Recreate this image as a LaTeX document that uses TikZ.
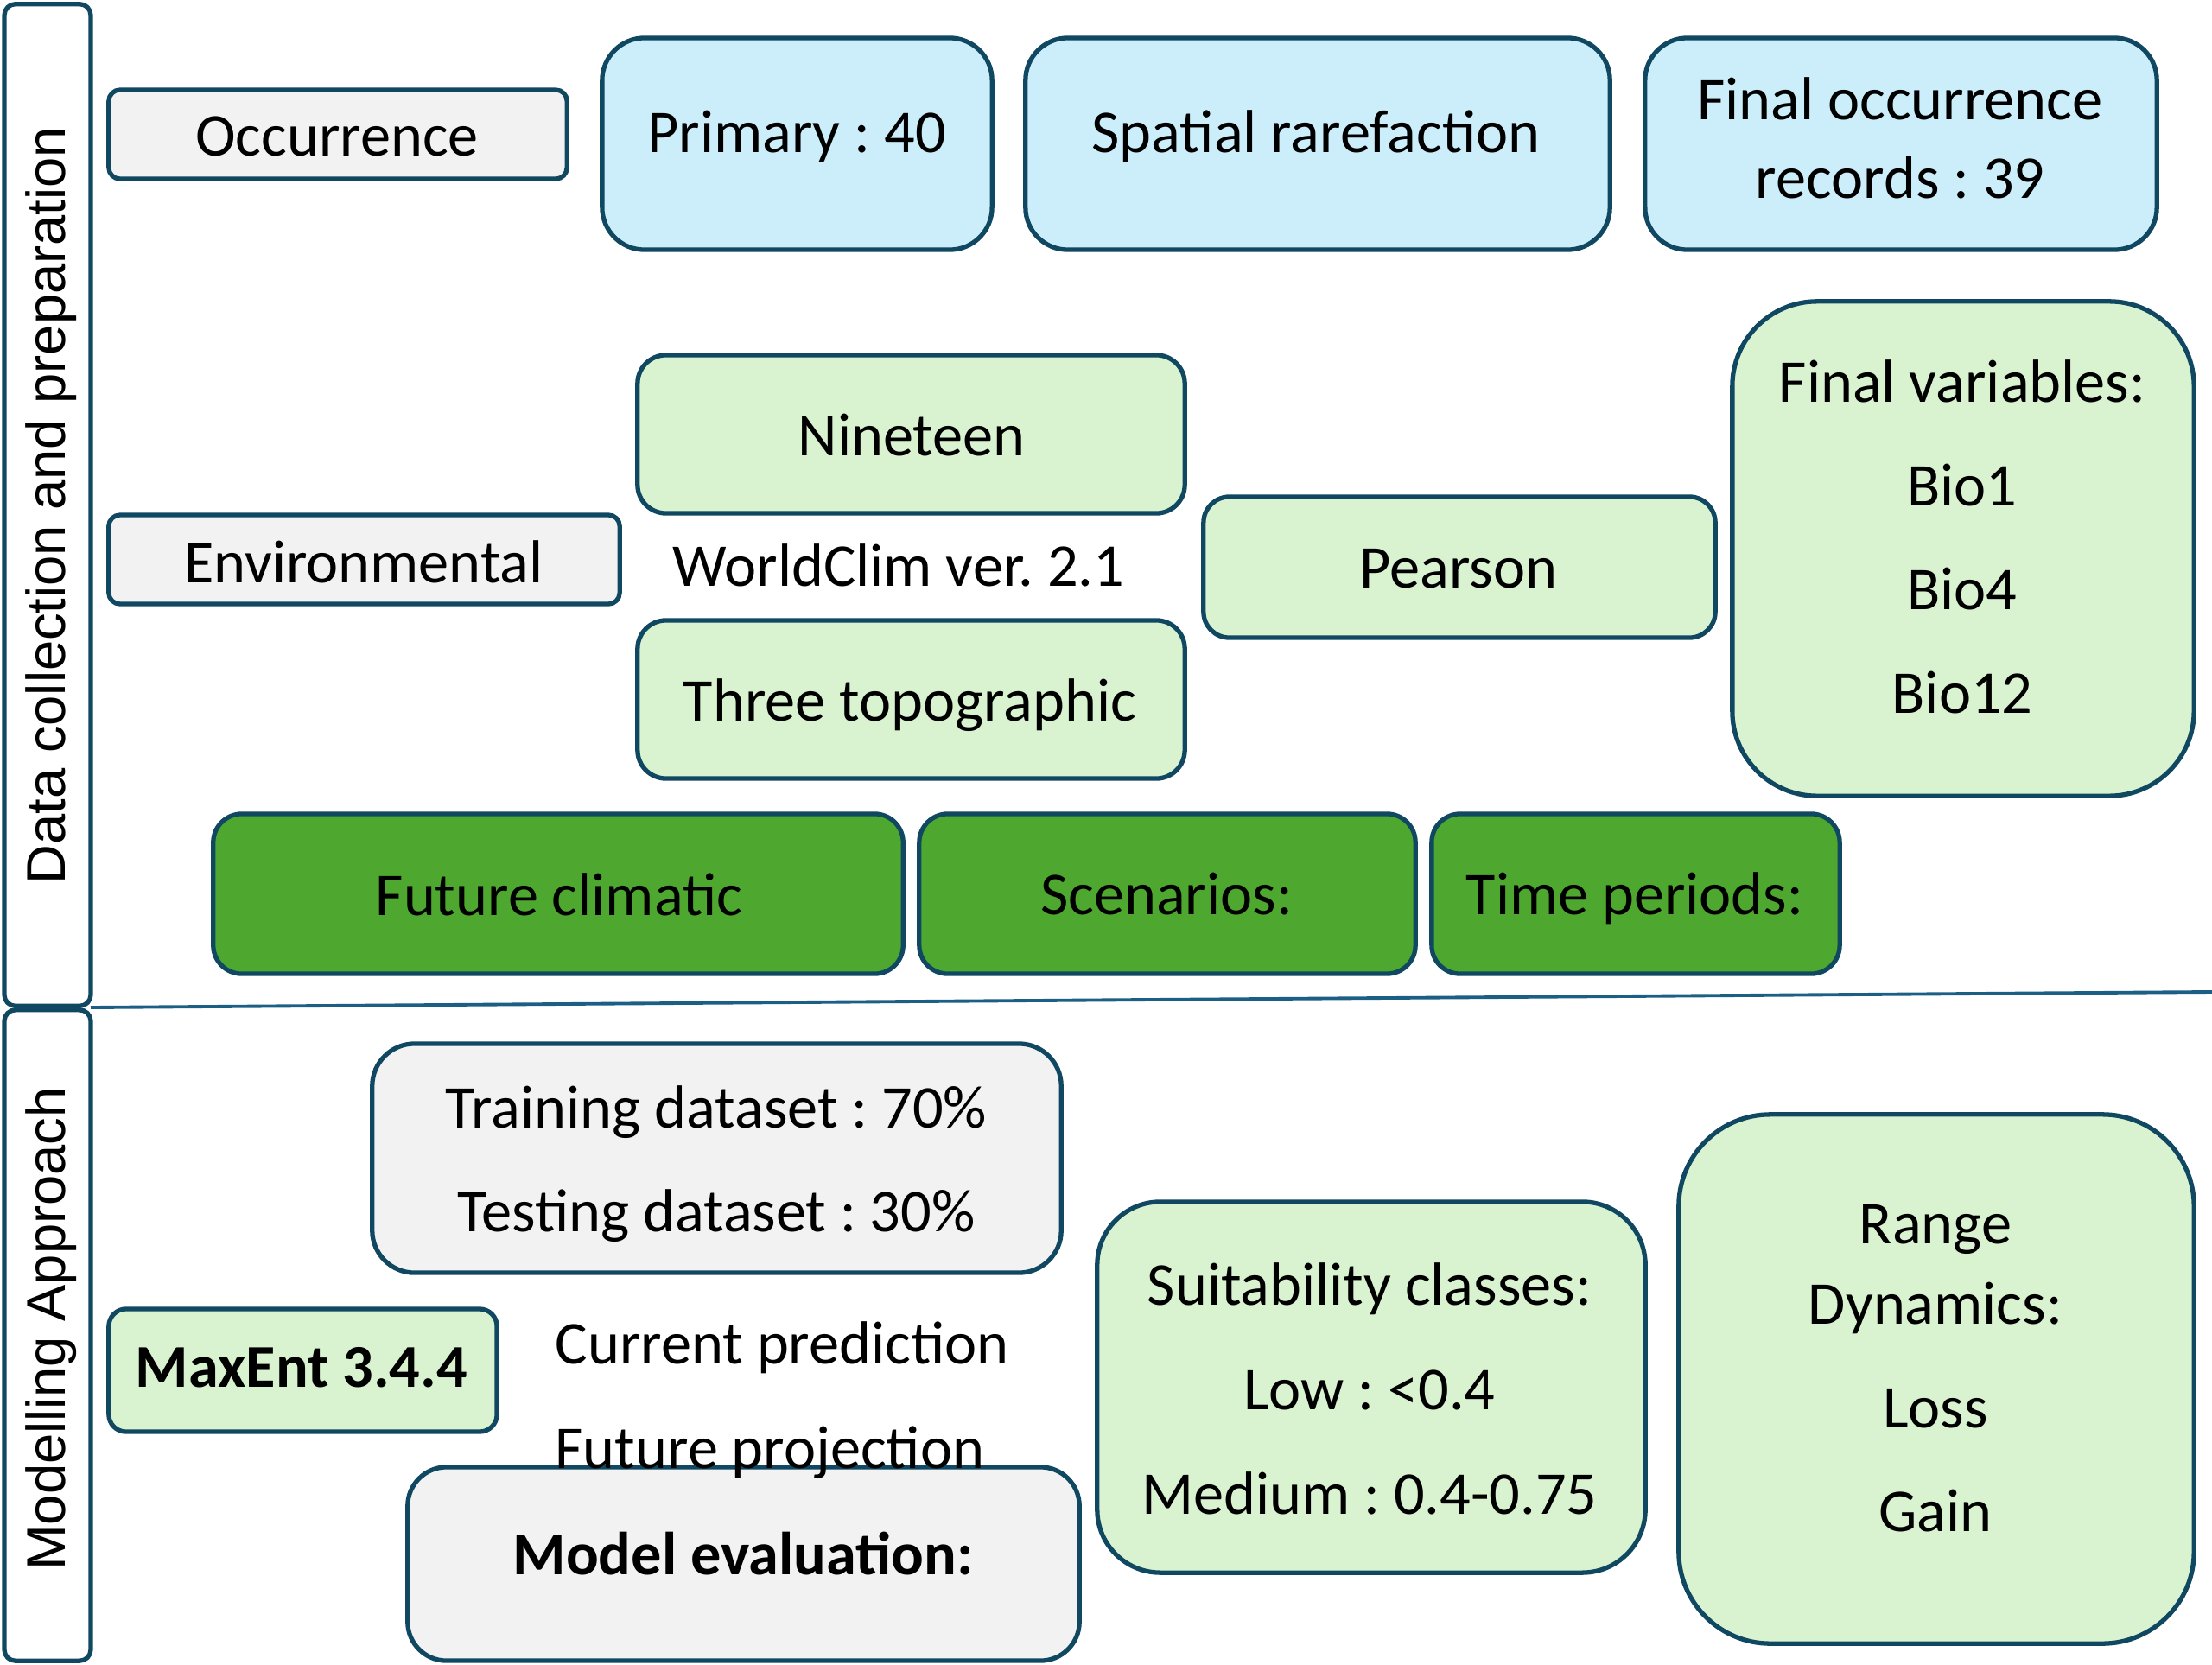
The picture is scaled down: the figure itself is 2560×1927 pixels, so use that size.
\documentclass[tikz,border=0pt]{standalone}
\usepackage{fontspec}
\setmainfont{Carlito}
\newfontfamily\lblfont{Liberation Sans}
\frenchspacing
\definecolor{edge}{HTML}{104862}
\definecolor{divc}{HTML}{1C5F85}
\definecolor{lblue}{HTML}{CCEEFB}
\definecolor{lgreen}{HTML}{D9F2D0}
\definecolor{dgreen}{HTML}{4EA72E}
\definecolor{lgray}{HTML}{F2F2F2}
\tikzset{
  box/.style={draw=edge, line width=1.5pt, inner sep=0pt},
  bluebox/.style={box, fill=lblue, rounded corners=0.49cm},
  greenbox/.style={box, fill=lgreen},
  darkbox/.style={box, fill=dgreen, rounded corners=0.33cm},
  graybox/.style={box, fill=lgray},
  band/.style={draw=edge, line width=1.5pt, rounded corners=0.13cm, inner sep=0pt},
  txt/.style={inner sep=0pt, align=center, font=\fontsize{20}{34}\selectfont},
  lbl/.style={inner sep=0pt, rotate=90, font=\lblfont\fontsize{18}{22}\selectfont},
}
\begin{document}
\begin{tikzpicture}[x=0.01cm,y=-0.01cm]
\useasboundingbox (0,0) rectangle (2560,1927);
% side bands
\node[band, minimum width=1.00cm, minimum height=11.59cm] (bandTop) at (55,584.5) {};
\node[band, minimum width=1.00cm, minimum height=7.53cm] (bandBot) at (55,1545.5) {};
\node[lbl] (lblTop) at (59,585) {Data collection and preparation};
\node[lbl] (lblBot) at (59,1538) {Modelling Approach};
% divider
\coordinate (divL) at (105,1166);
\coordinate (divR) at (2560,1148);
\draw[divc, line width=1.1pt] (divL) -- (divR);
% occurrence row
\node[graybox, rounded corners=0.13cm, minimum width=5.30cm, minimum height=1.03cm] (occ) at (391,155.5) {};
\node[txt] (occT) at (390,158) {Occurrence};
\node[bluebox, minimum width=4.51cm, minimum height=2.45cm] (prim) at (922.5,166.5) {};
\node[txt] (primT) at (922,158) {Primary : 40};
\node[bluebox, minimum width=6.76cm, minimum height=2.45cm] (spat) at (1525,166.5) {};
\node[txt] (spatT) at (1523,158) {Spatial rarefaction};
\node[bluebox, minimum width=5.92cm, minimum height=2.45cm] (focc) at (2200,166.5) {};
\node[txt, font=\fontsize{20}{25.9}\selectfont] (foccT) at (2199,160) {Final occurrence\\records : 39};
% environmental
\node[greenbox, rounded corners=0.33cm, minimum width=6.33cm, minimum height=1.83cm] (nine) at (1054.5,502.5) {};
\node[txt] (nineT) at (1055,504) {Nineteen};
\node[txt] (wc) at (1040,654) {WorldClim ver. 2.1};
\node[graybox, rounded corners=0.13cm, minimum width=5.91cm, minimum height=1.03cm] (env) at (421.5,647.5) {};
\node[txt] (envT) at (421,650) {Environmental};
\node[greenbox, rounded corners=0.33cm, minimum width=6.33cm, minimum height=1.83cm] (three) at (1054.5,809.5) {};
\node[txt] (threeT) at (1053,816) {Three topographic};
\node[greenbox, rounded corners=0.30cm, minimum width=5.92cm, minimum height=1.63cm] (pear) at (1689,656.5) {};
\node[txt] (pearT) at (1688,658) {Pearson};
\node[greenbox, rounded corners=0.98cm, minimum width=5.34cm, minimum height=5.72cm] (fvar) at (2272,635) {};
\node[txt, font=\fontsize{20}{34.1}\selectfont] (fvarT) at (2271,621) {Final variables:\\Bio1\\Bio4\\Bio12};
% future row
\node[darkbox, minimum width=7.98cm, minimum height=1.85cm] (fut) at (646,1034.5) {};
\node[txt] (futT) at (647,1035) {Future climatic};
\node[darkbox, minimum width=5.74cm, minimum height=1.85cm] (scen) at (1351,1034.5) {};
\node[txt] (scenT) at (1350,1035) {Scenarios:};
\node[darkbox, minimum width=4.72cm, minimum height=1.85cm] (time) at (1893,1034.5) {};
\node[txt] (timeT) at (1892,1040) {Time periods:};
% modelling
\node[graybox, rounded corners=0.49cm, minimum width=7.97cm, minimum height=2.65cm] (train) at (829.5,1340.5) {};
\node[txt, font=\fontsize{20}{34.1}\selectfont] (trainT) at (829,1347) {Training dataset : 70\%\\Testing dataset : 30\%};
\node[greenbox, rounded corners=0.20cm, minimum width=4.49cm, minimum height=1.42cm] (maxent) at (350.5,1586) {};
\node[txt, font=\bfseries\fontsize{20}{34}\selectfont] (maxentT) at (349,1583) {MaxEnt 3.4.4};
\node[graybox, rounded corners=0.45cm, minimum width=7.77cm, minimum height=2.24cm] (meval) at (860.5,1810) {};
\node[txt, font=\bfseries\fontsize{20}{34}\selectfont] (mevalT) at (860,1798) {Model evaluation:};
\node[txt, anchor=west] (cur) at (642,1560) {Current prediction};
\node[txt, anchor=west] (futp) at (642,1681) {Future projection};
\node[greenbox, rounded corners=0.73cm, minimum width=6.34cm, minimum height=4.29cm] (suit) at (1587,1605.5) {};
\node[txt, font=\fontsize{20}{34.4}\selectfont] (suitT) at (1585,1607) {Suitability classes:\\Low : <0.4\\Medium : 0.4-0.75};
\node[greenbox, rounded corners=1.06cm, minimum width=5.96cm, minimum height=6.12cm] (range) at (2241,1596) {};
\node[txt, font=\fontsize{20}{34.2}\selectfont] (rangeT) at (2240,1584) {Range\\[-8pt]Dynamics:\\Loss\\Gain};
\end{tikzpicture}
\end{document}
